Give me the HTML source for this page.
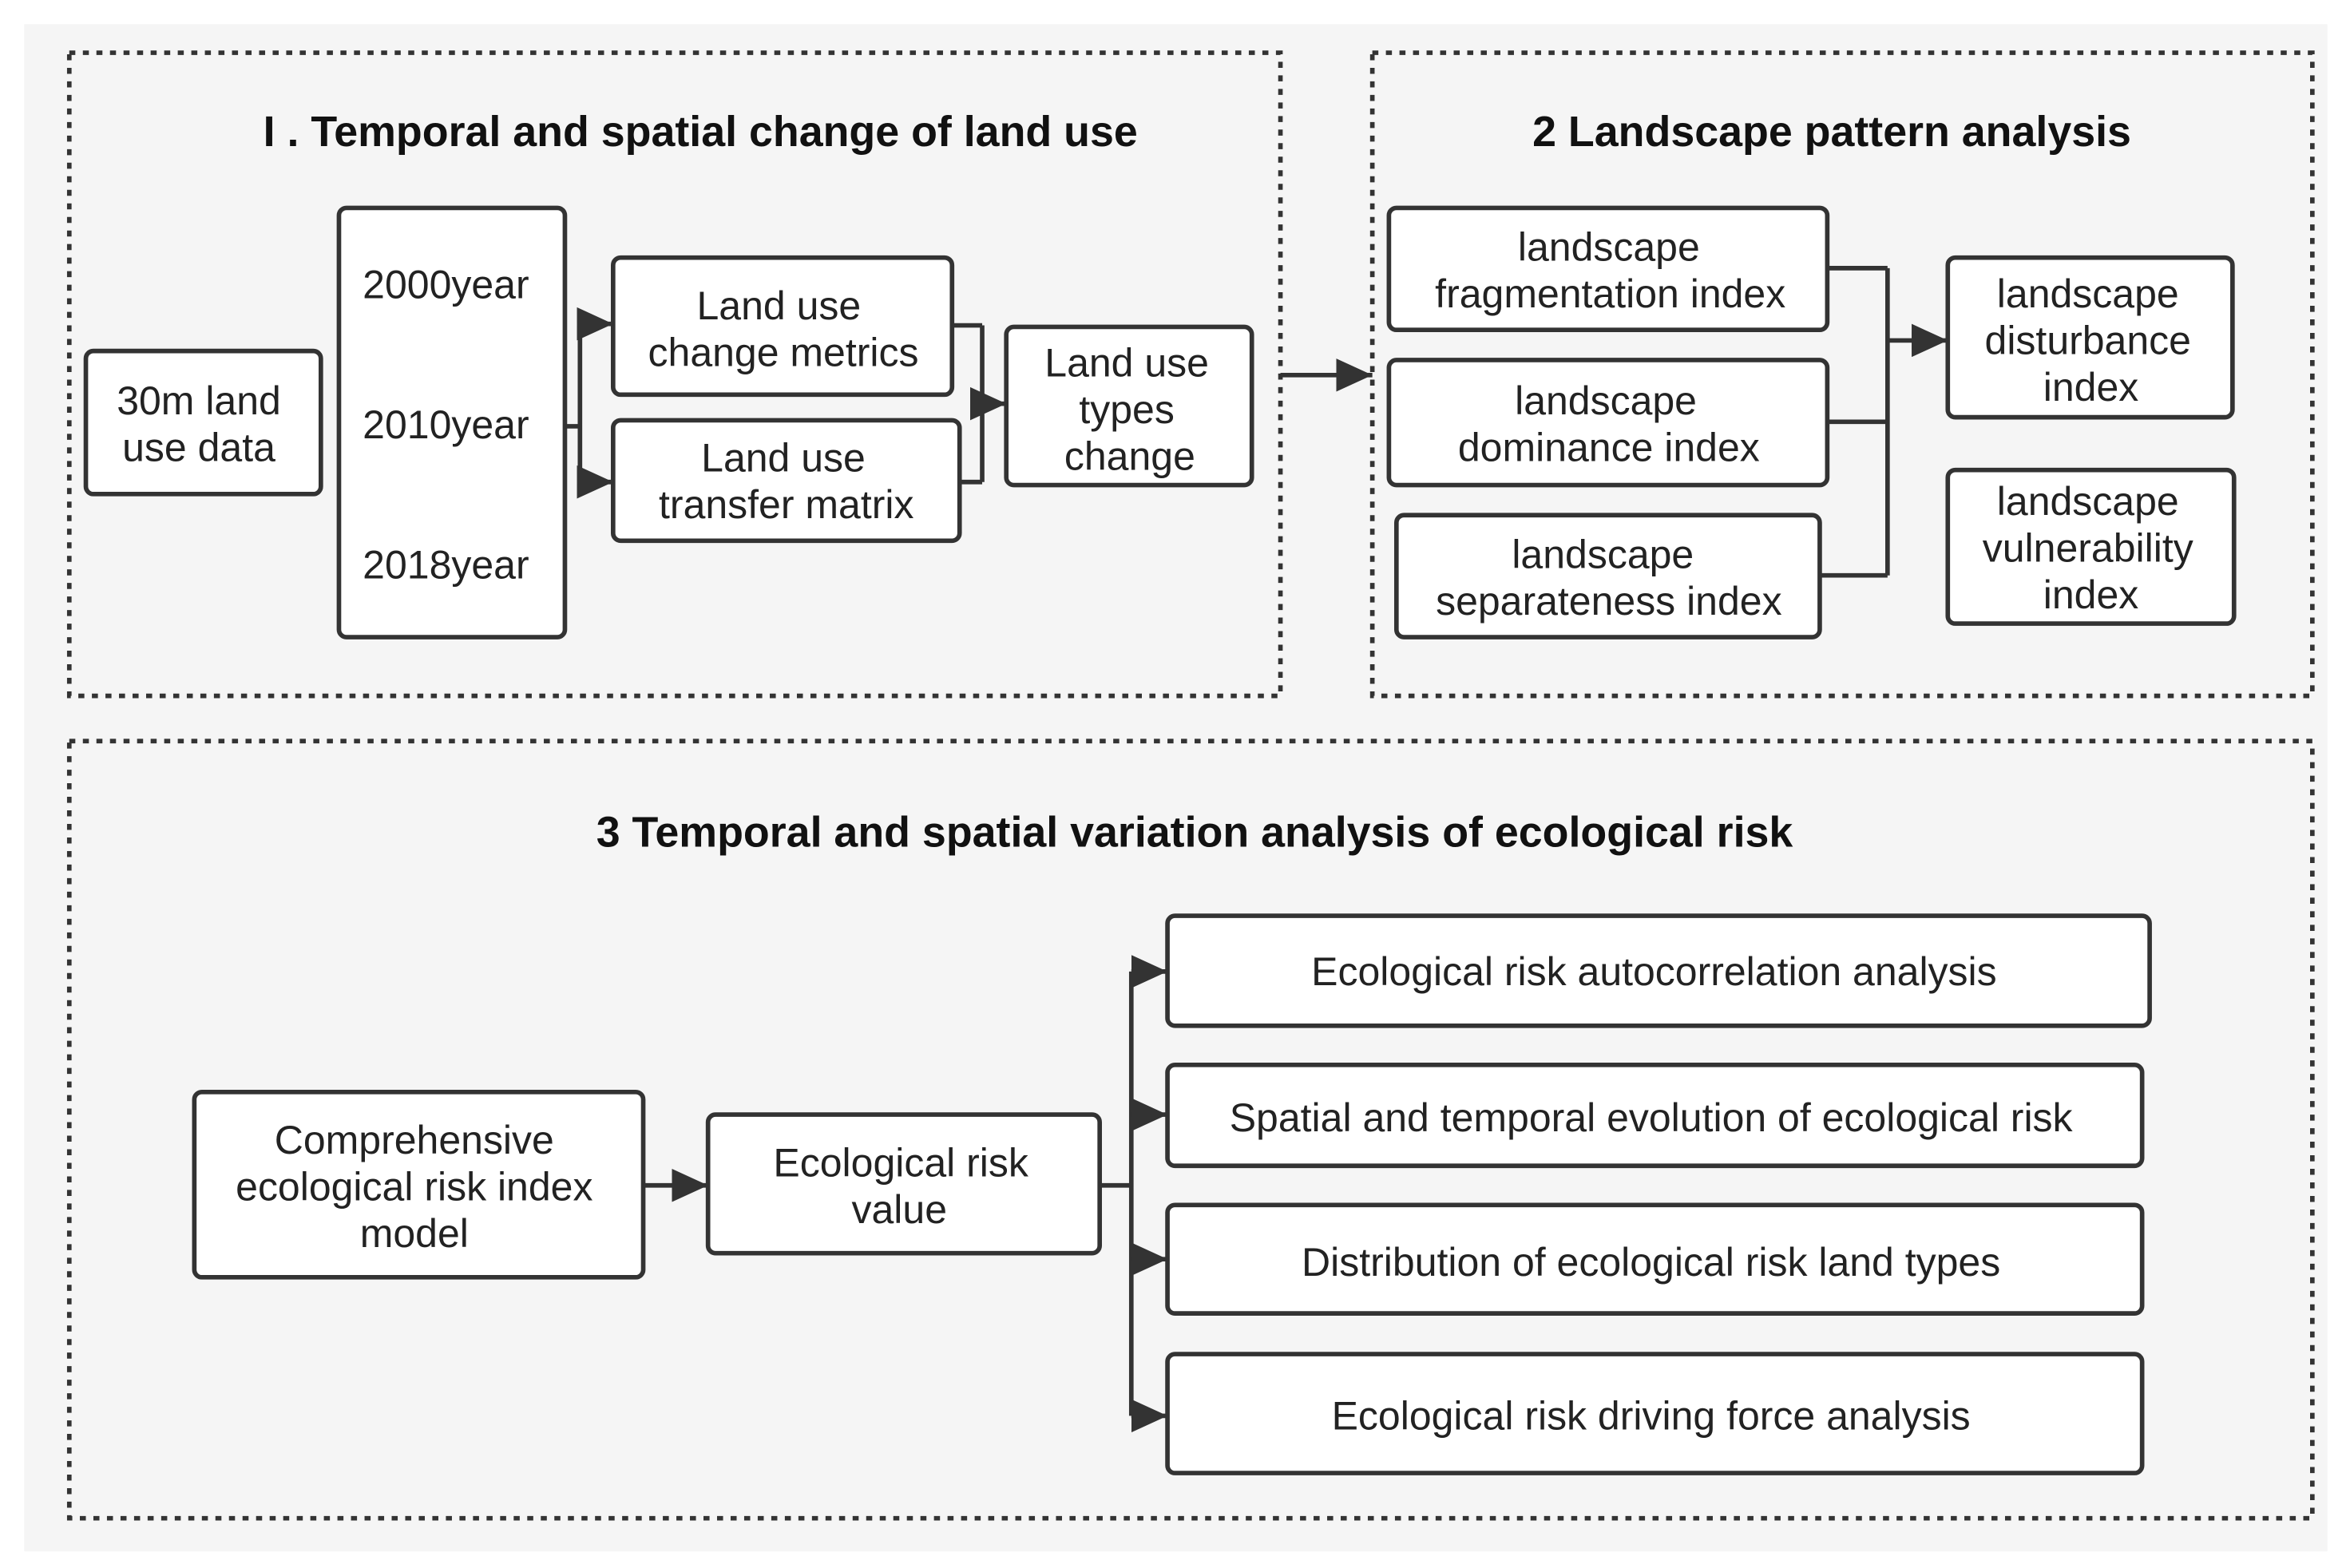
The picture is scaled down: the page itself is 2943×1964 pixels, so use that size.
<!DOCTYPE html>
<html><head><meta charset="utf-8"><style>
html,body{margin:0;padding:0;background:#fff;}
svg{display:block;}
text{font-family:"Liberation Sans","DejaVu Sans",sans-serif;font-size:26.5px;fill:#222;text-anchor:middle;}
.t{font-weight:bold;font-size:28.5px;fill:#111;}
.b{fill:#fff;stroke:#333;stroke-width:3;}
.p{fill:none;stroke:#333;stroke-width:3;stroke-dasharray:4 5;}
.l{fill:none;stroke:#333;stroke-width:3;}
</style></head><body>
<svg width="2943" height="1964" viewBox="0 0 1560 1041" xmlns="http://www.w3.org/2000/svg">
<defs>
<marker id="A" markerWidth="24" markerHeight="22" refX="24" refY="11" orient="auto" markerUnits="userSpaceOnUse"><path d="M0,0 L24,11 L0,22z" fill="#333"/></marker></defs>
<rect x="16" y="16" width="1529" height="1014" fill="#f5f5f5"/>
<rect class="p" x="46" y="35" width="804" height="427"/>
<rect class="p" x="911" y="35" width="624" height="427"/>
<rect class="p" x="46" y="492" width="1489" height="516"/>
<text class="t" x="465" y="97">I . Temporal and spatial change of land use</text>
<text class="t" x="1216" y="97">2 Landscape pattern analysis</text>
<text class="t" x="793" y="562">3 Temporal and spatial variation analysis of ecological risk</text>
<!-- panel 1 -->
<rect class="b" x="57" y="233" width="156" height="95" rx="5"/>
<text x="132" y="275">30m land</text><text x="132" y="306">use data</text>
<rect class="b" x="225" y="138" width="150" height="285" rx="5"/>
<text x="296" y="198">2000year</text><text x="296" y="291">2010year</text><text x="296" y="384">2018year</text>
<rect class="b" x="407" y="171" width="225" height="91" rx="5"/>
<text x="517" y="212">Land use</text><text x="520" y="243">change metrics</text>
<rect class="b" x="407" y="279" width="230" height="80" rx="5"/>
<text x="520" y="313">Land use</text><text x="522" y="344">transfer matrix</text>
<rect class="b" x="668" y="217" width="163" height="105" rx="5"/>
<text x="748" y="250">Land use</text><text x="748" y="281">types</text><text x="750" y="312">change</text>
<path class="l" d="M375,283 H385 M385,215 V320"/>
<path class="l" d="M385,215 H407" marker-end="url(#A)"/>
<path class="l" d="M385,320 H407" marker-end="url(#A)"/>
<path class="l" d="M632,216 H652 M637,320 H652 M652,216 V320"/>
<path class="l" d="M652,268 H668" marker-end="url(#A)"/>
<path class="l" d="M850,249 H911" marker-end="url(#A)"/>
<!-- panel 2 -->
<rect class="b" x="922" y="138" width="291" height="81" rx="5"/>
<text x="1068" y="173">landscape</text><text x="1069" y="204">fragmentation index</text>
<rect class="b" x="922" y="239" width="291" height="83" rx="5"/>
<text x="1066" y="275">landscape</text><text x="1068" y="306">dominance index</text>
<rect class="b" x="927" y="342" width="281" height="81" rx="5"/>
<text x="1064" y="377">landscape</text><text x="1068" y="408">separateness index</text>
<path class="l" d="M1213,178 H1253 M1213,280 H1253 M1208,382 H1253 M1253,178 V382"/>
<path class="l" d="M1253,226 H1293" marker-end="url(#A)"/>
<rect class="b" x="1293" y="171" width="189" height="106" rx="5"/>
<text x="1386" y="204">landscape</text><text x="1386" y="235">disturbance</text><text x="1388" y="266">index</text>
<rect class="b" x="1293" y="312" width="190" height="102" rx="5"/>
<text x="1386" y="342">landscape</text><text x="1386" y="373">vulnerability</text><text x="1388" y="404">index</text>
<!-- panel 3 -->
<rect class="b" x="129" y="725" width="298" height="123" rx="5"/>
<text x="275" y="766">Comprehensive</text><text x="275" y="797">ecological risk index</text><text x="275" y="828">model</text>
<path class="l" d="M427,787 H470" marker-end="url(#A)"/>
<rect class="b" x="470" y="740" width="260" height="92" rx="5"/>
<text x="598" y="781">Ecological risk</text><text x="597" y="812">value</text>
<path class="l" d="M730,787 H751 M751,645 V940"/>
<path class="l" d="M751,645 H775" marker-end="url(#A)"/>
<path class="l" d="M751,740 H775" marker-end="url(#A)"/>
<path class="l" d="M751,836 H775" marker-end="url(#A)"/>
<path class="l" d="M751,940 H775" marker-end="url(#A)"/>
<rect class="b" x="775" y="608" width="652" height="73" rx="5"/>
<text x="1098" y="654">Ecological risk autocorrelation analysis</text>
<rect class="b" x="775" y="707" width="647" height="67" rx="5"/>
<text x="1096" y="751">Spatial and temporal evolution of ecological risk</text>
<rect class="b" x="775" y="800" width="647" height="72" rx="5"/>
<text x="1096" y="847">Distribution of ecological risk land types</text>
<rect class="b" x="775" y="899" width="647" height="79" rx="5"/>
<text x="1096" y="949">Ecological risk driving force analysis</text>
</svg>
</body></html>
